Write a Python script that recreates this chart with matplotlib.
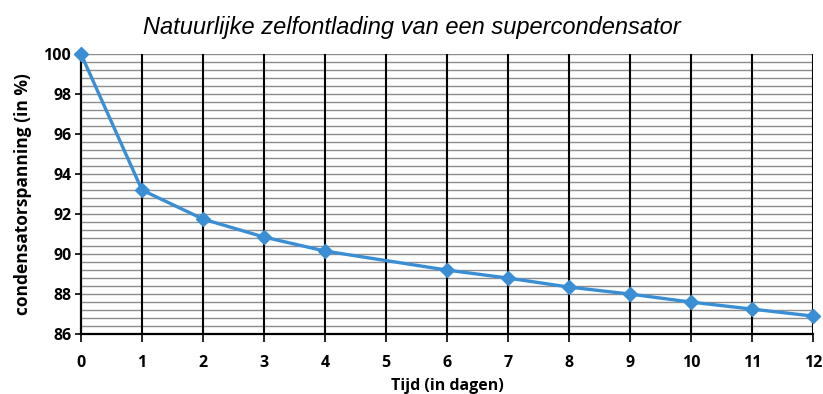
import numpy as np
import matplotlib
matplotlib.use("Agg")
import matplotlib.pyplot as plt
from matplotlib.ticker import MultipleLocator

# data (no reading at day 5)
days = [0, 1, 2, 3, 4, 6, 7, 8, 9, 10, 11, 12]
voltage = [100.0, 93.2, 91.75, 90.85, 90.15, 89.2, 88.8, 88.35, 88.0, 87.6, 87.25, 86.9]
x_ticks = list(range(0, 13))
y_ticks = list(range(86, 101, 2))

title = "Natuurlijke zelfontlading van een supercondensator"
xlabel = "Tijd (in dagen)"
ylabel = "condensatorspanning (in %)"

fig = plt.figure(figsize=(8.23, 3.94), dpi=100)
ax = fig.add_axes([0.0984, 0.152, 0.8896, 0.711])

ax.set_xlim(0, 12)
ax.set_ylim(86, 100)
ax.set_xticks(x_ticks)
ax.set_yticks(y_ticks)
ax.yaxis.set_minor_locator(MultipleLocator(0.4))

# grid: grey horizontal lines every 0.4, black verticals at each day on top
ax.grid(True, axis="y", which="both", color="#8c8c8c", linewidth=1.0, zorder=0)
for x in x_ticks[1:]:
    ax.axvline(x, color="black", linewidth=1.5, zorder=2)

ax.plot(days, voltage, color="#3a8fd4", linewidth=2.4, marker="D",
        markersize=7.5, clip_on=False, zorder=5)

for s in ["top", "right"]:
    ax.spines[s].set_visible(False)
for s in ["left", "bottom"]:
    ax.spines[s].set_color("black")
    ax.spines[s].set_linewidth(1.6)
    ax.spines[s].set_zorder(3)

ax.tick_params(axis="x", which="major", length=6, width=1.2, direction="out", pad=9)
ax.tick_params(axis="y", which="major", length=4, width=1.2, direction="out", pad=3)
ax.tick_params(axis="y", which="minor", length=0)

for lab in ax.get_xticklabels() + ax.get_yticklabels():
    lab.set_fontfamily("Open Sans")
    lab.set_fontweight("bold")
    lab.set_fontsize(11.5)

ax.set_xlabel(xlabel, fontfamily="Open Sans", fontweight="bold", fontsize=11.5, labelpad=5)
ax.set_ylabel(ylabel, fontfamily="Open Sans", fontweight="bold", fontsize=12.5, labelpad=8)
fig.text(0.5, 0.93, title, ha="center", va="center", fontfamily="Liberation Sans",
         style="italic", fontsize=17)

fig.savefig("out.png", dpi=100)
